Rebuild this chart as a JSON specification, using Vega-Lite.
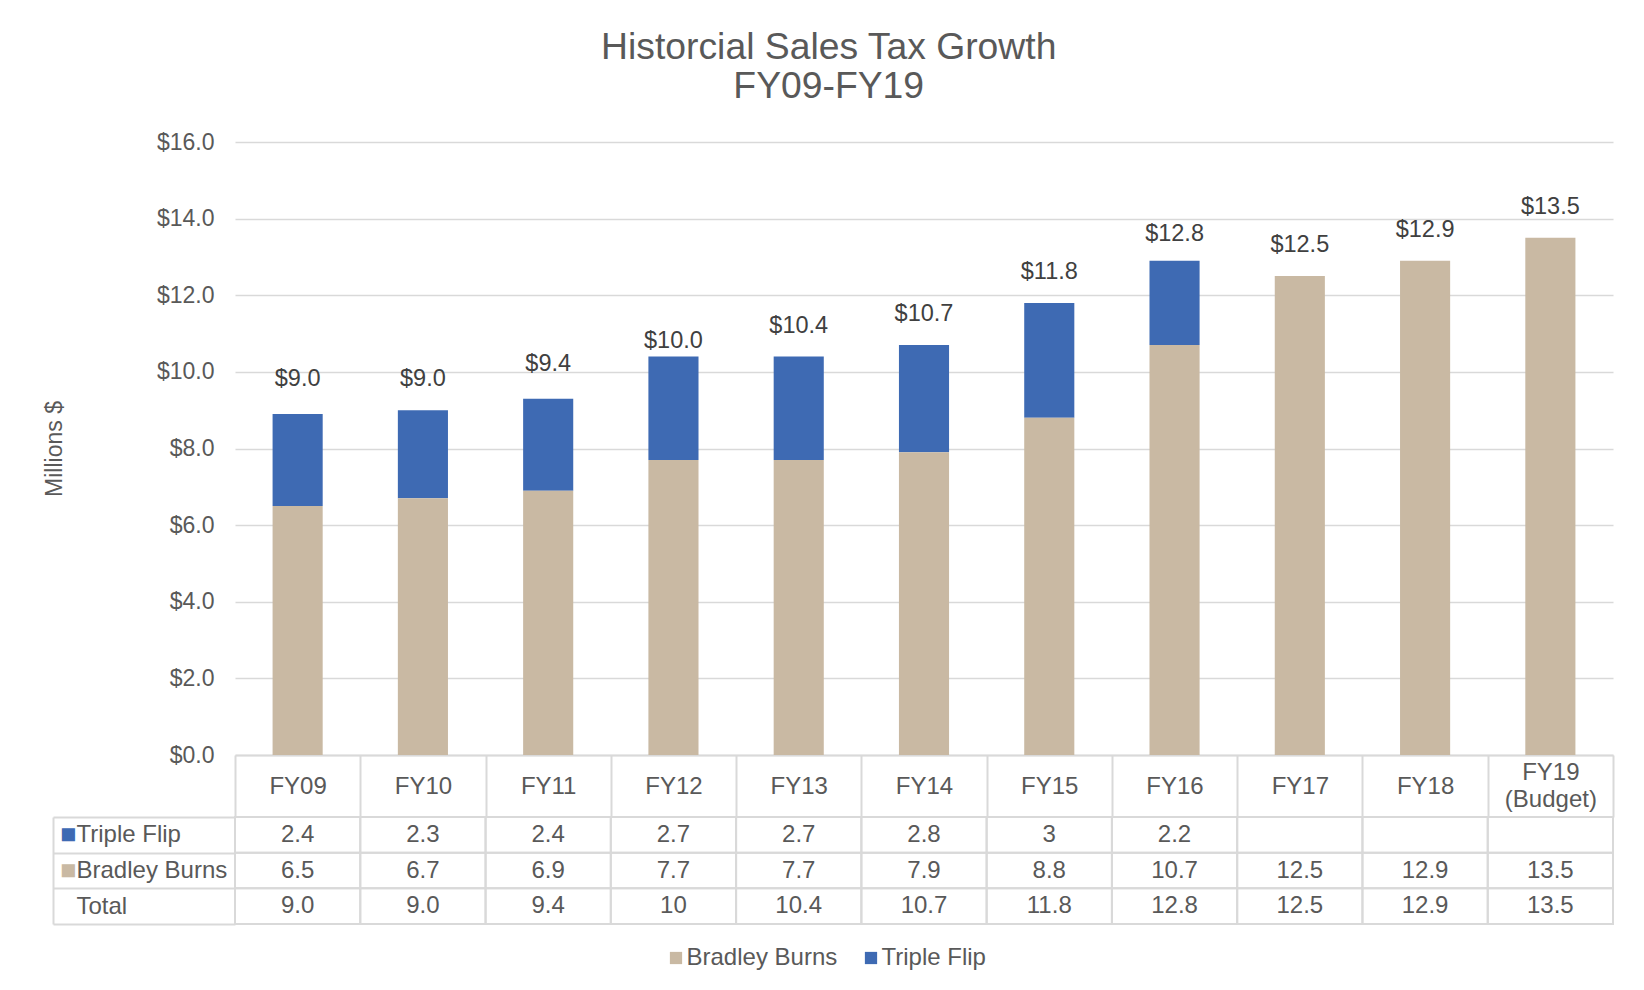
{
  "$schema": "https://vega.github.io/schema/vega-lite/v6.json",
  "background": "white",
  "padding": {"left": 43, "top": 29, "right": 20, "bottom": 10},
  "title": {
    "text": ["Historcial Sales Tax Growth", "FY09-FY19"],
    "fontSize": 37.3,
    "fontWeight": "normal",
    "color": "#595959",
    "font": "Liberation Sans",
    "lineHeight": 38.5,
    "anchor": "middle",
    "offset": 25
  },
  "data": {
    "values": [
      {"year": "FY09", "row": "Triple Flip", "value": 2.4, "label": "2.4"},
      {"year": "FY09", "row": "Bradley Burns", "value": 6.5, "label": "6.5"},
      {"year": "FY09", "row": "Total", "value": 9.0, "label": "9.0"},
      {"year": "FY10", "row": "Triple Flip", "value": 2.3, "label": "2.3"},
      {"year": "FY10", "row": "Bradley Burns", "value": 6.7, "label": "6.7"},
      {"year": "FY10", "row": "Total", "value": 9.0, "label": "9.0"},
      {"year": "FY11", "row": "Triple Flip", "value": 2.4, "label": "2.4"},
      {"year": "FY11", "row": "Bradley Burns", "value": 6.9, "label": "6.9"},
      {"year": "FY11", "row": "Total", "value": 9.4, "label": "9.4"},
      {"year": "FY12", "row": "Triple Flip", "value": 2.7, "label": "2.7"},
      {"year": "FY12", "row": "Bradley Burns", "value": 7.7, "label": "7.7"},
      {"year": "FY12", "row": "Total", "value": 10, "label": "10"},
      {"year": "FY13", "row": "Triple Flip", "value": 2.7, "label": "2.7"},
      {"year": "FY13", "row": "Bradley Burns", "value": 7.7, "label": "7.7"},
      {"year": "FY13", "row": "Total", "value": 10.4, "label": "10.4"},
      {"year": "FY14", "row": "Triple Flip", "value": 2.8, "label": "2.8"},
      {"year": "FY14", "row": "Bradley Burns", "value": 7.9, "label": "7.9"},
      {"year": "FY14", "row": "Total", "value": 10.7, "label": "10.7"},
      {"year": "FY15", "row": "Triple Flip", "value": 3, "label": "3"},
      {"year": "FY15", "row": "Bradley Burns", "value": 8.8, "label": "8.8"},
      {"year": "FY15", "row": "Total", "value": 11.8, "label": "11.8"},
      {"year": "FY16", "row": "Triple Flip", "value": 2.2, "label": "2.2"},
      {"year": "FY16", "row": "Bradley Burns", "value": 10.7, "label": "10.7"},
      {"year": "FY16", "row": "Total", "value": 12.8, "label": "12.8"},
      {"year": "FY17", "row": "Triple Flip", "value": null, "label": ""},
      {"year": "FY17", "row": "Bradley Burns", "value": 12.5, "label": "12.5"},
      {"year": "FY17", "row": "Total", "value": 12.5, "label": "12.5"},
      {"year": "FY18", "row": "Triple Flip", "value": null, "label": ""},
      {"year": "FY18", "row": "Bradley Burns", "value": 12.9, "label": "12.9"},
      {"year": "FY18", "row": "Total", "value": 12.9, "label": "12.9"},
      {"year": "FY19 (Budget)", "row": "Triple Flip", "value": null, "label": ""},
      {"year": "FY19 (Budget)", "row": "Bradley Burns", "value": 13.5, "label": "13.5"},
      {"year": "FY19 (Budget)", "row": "Total", "value": 13.5, "label": "13.5"}
    ]
  },
  "spacing": 62,
  "bounds": "flush",
  "vconcat": [
    {
      "width": 1378,
      "height": 613,
      "encoding": {
        "x": {
          "field": "year",
          "type": "nominal",
          "sort": ["FY09", "FY10", "FY11", "FY12", "FY13", "FY14", "FY15", "FY16", "FY17", "FY18", "FY19 (Budget)"],
          "scale": {"paddingInner": 0, "paddingOuter": 0},
          "axis": {
            "title": null,
            "labelAngle": 0,
            "domain": true,
            "domainColor": "#D9D9D9",
            "domainWidth": 2,
            "ticks": true,
            "tickBand": "extent",
            "tickSize": 62,
            "tickColor": "#D9D9D9",
            "tickWidth": 2,
            "labelPadding": {"condition": {"test": "datum.value == 'FY19 (Budget)'", "value": -45}, "value": -31},
            "labelBaseline": "middle",
            "labelFontSize": 24,
            "labelColor": "#595959",
            "labelFont": "Liberation Sans",
            "labelLineHeight": 27.5,
            "labelExpr": "datum.value == 'FY19 (Budget)' ? ['FY19', '(Budget)'] : datum.value",
            "labelOverlap": false,
            "labelFlush": false,
            "labelBound": false,
            "grid": false
          }
        },
        "y": {
          "field": "value",
          "type": "quantitative",
          "scale": {"domain": [0, 16], "nice": false},
          "title": "Millions $",
          "axis": {
            "values": [0, 2, 4, 6, 8, 10, 12, 14, 16],
            "format": "$.1f",
            "domain": false,
            "ticks": false,
            "grid": true,
            "gridColor": "#D9D9D9",
            "gridWidth": 1.5,
            "labelFontSize": 23,
            "labelColor": "#595959",
            "labelFont": "Liberation Sans",
            "labelPadding": 21,
            "titleFontSize": 23,
            "titleColor": "#595959",
            "titleFont": "Liberation Sans",
            "titleFontWeight": "normal",
            "titlePadding": 90
          }
        }
      },
      "layer": [
        {
          "transform": [{"filter": "datum.row != 'Total' && isValid(datum.value)"}],
          "mark": {"type": "bar", "width": {"band": 0.4}},
          "encoding": {
            "color": {
              "field": "row",
              "type": "nominal",
              "scale": {"domain": ["Bradley Burns", "Triple Flip"], "range": ["#C9B9A3", "#3E6AB3"]},
              "legend": {
                "title": null,
                "orient": "none",
                "legendX": 429,
                "legendY": 804,
                "direction": "horizontal",
                "symbolType": "square",
                "symbolSize": 150,
                "symbolStrokeWidth": 0,
                "labelFontSize": 24,
                "labelColor": "#595959",
                "labelFont": "Liberation Sans",
                "labelOffset": -1.5,
                "columnPadding": 21
              }
            },
            "order": {"field": "row", "type": "nominal", "sort": "ascending"}
          }
        },
        {
          "transform": [{"filter": "datum.row == 'Total'"}],
          "mark": {"type": "text", "dy": -31, "fontSize": 23.5, "color": "#404040", "baseline": "middle", "font": "Liberation Sans"},
          "encoding": {
            "text": {"field": "value", "type": "quantitative", "format": "$.1f"}
          }
        }
      ]
    },
    {
      "width": 1378,
      "height": 107,
      "encoding": {
        "x": {
          "field": "year",
          "type": "nominal",
          "sort": ["FY09", "FY10", "FY11", "FY12", "FY13", "FY14", "FY15", "FY16", "FY17", "FY18", "FY19 (Budget)"],
          "scale": {"paddingInner": 0, "paddingOuter": 0},
          "axis": null
        }
      },
      "layer": [
        {
          "mark": {"type": "rect", "filled": false, "stroke": "#D9D9D9", "strokeWidth": 2},
          "encoding": {
            "y": {
              "field": "row",
              "type": "nominal",
              "sort": ["Triple Flip", "Bradley Burns", "Total"],
              "scale": {"paddingInner": 0, "paddingOuter": 0},
              "axis": {
                "orient": "left",
                "offset": 182,
                "title": null,
                "domain": true,
                "domainColor": "#D9D9D9",
                "domainWidth": 2,
                "ticks": false,
                "grid": false,
                "labelPadding": -6.5,
                "labelAlign": "left",
                "labelBaseline": "middle",
                "labelExpr": "datum.value == 'Total' ? '' : '■'",
                "labelColor": {"condition": {"test": "datum.value == 'Triple Flip'", "value": "#3E6AB3"}, "value": "#C9B9A3"},
                "labelFontSize": 27,
                "labelFont": "Liberation Sans"
              }
            }
          }
        },
        {
          "mark": {"type": "text", "fontSize": 24, "color": "#595959", "baseline": "middle", "font": "Liberation Sans"},
          "encoding": {
            "text": {"field": "label"},
            "y": {
              "field": "row",
              "type": "nominal",
              "sort": ["Triple Flip", "Bradley Burns", "Total"],
              "scale": {"paddingInner": 0, "paddingOuter": 0},
              "axis": {
                "orient": "left",
                "title": null,
                "domain": false,
                "ticks": true,
                "tickBand": "extent",
                "tickSize": 182,
                "tickColor": "#D9D9D9",
                "tickWidth": 2,
                "grid": false,
                "labelPadding": -23,
                "labelAlign": "left",
                "labelBaseline": "middle",
                "labelFontSize": 24,
                "labelColor": "#595959",
                "labelFont": "Liberation Sans"
              }
            }
          }
        }
      ],
      "resolve": {"axis": {"y": "independent"}}
    }
  ],
  "resolve": {"scale": {"color": "shared"}},
  "config": {
    "font": "Liberation Sans",
    "view": {"stroke": null}
  }
}
